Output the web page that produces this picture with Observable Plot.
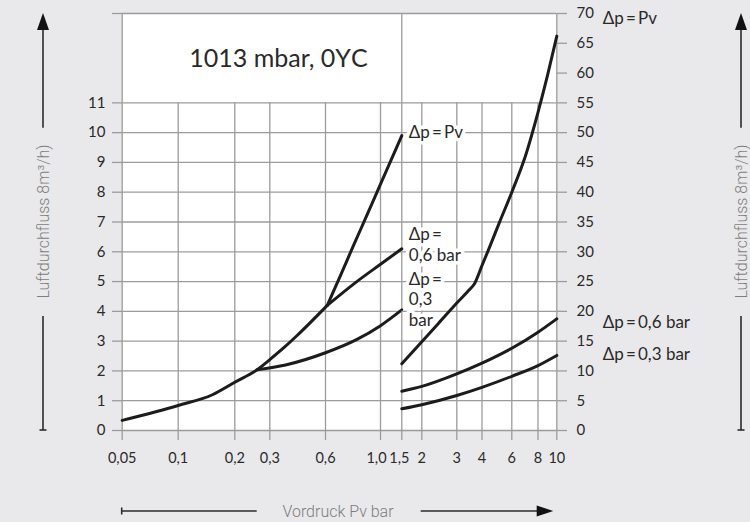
<!DOCTYPE html>
<html><head><meta charset="utf-8">
<script src="https://cdn.jsdelivr.net/npm/d3@7"></script>
<script src="https://cdn.jsdelivr.net/npm/@observablehq/plot@0.6"></script>
<style>
html,body{margin:0;padding:0;background:#e9e9eb;}
#chart{position:relative;width:750px;height:522px;}
#chart svg{position:absolute;left:0;top:0;}
g[aria-label="x tick labels"] text{letter-spacing:-0.4px;}
</style></head><body><div id="chart"></div>
<script>
// ---------- data ----------
const xTicksLeft = [0.05, 0.1, 0.2, 0.3, 0.6, 1.0, 1.5];
const xTickLabelsLeft = ["0,05", "0,1", "0,2", "0,3", "0,6", "1,0", "1,5"];
const xTicksRight = [2, 3, 4, 6, 8, 10];
const xTickLabelsRight = ["2", "3", "4", "6", "8", "10"];
const yTicksLeft = [0, 1, 2, 3, 4, 5, 6, 7, 8, 9, 10, 11];
const yTicksRight = [0, 5, 10, 15, 20, 25, 30, 35, 40, 45, 50, 55, 60, 65, 70];

// left panel (Vordruck 0.05 – 1.5 bar, flow 0 – 11 m³/h)
// Δp = Pv: lower branch up to the 0,6-bar junction, then the steep branch
const pvLowLeftX = [0.05, 0.1, 0.152, 0.2, 0.259, 0.3, 0.365, 0.42, 0.61];
const pvLowLeftQ = [0.34, 0.84, 1.2, 1.62, 2.04, 2.38, 2.83, 3.18, 4.2];
const pvHighLeftX = [0.61, 0.69, 0.78, 0.87, 1.0, 1.22, 1.5];
const pvHighLeftQ = [4.2, 5.21, 6.23, 7.12, 8.27, 9.07, 9.9];
const dp06LeftX = [0.61, 0.8, 1.0, 1.5];
const dp06LeftQ = [4.2, 4.99, 5.58, 6.1];
const dp03LeftX = [0.259, 0.365, 0.6, 0.8, 1.0, 1.5];
const dp03LeftQ = [2.04, 2.2, 2.61, 3.05, 3.52, 4.05];

// right panel (Vordruck 1.5 – 10 bar, flow 0 – 70 m³/h)
const pvRightX = [1.5, 2, 2.43, 3, 3.5, 3.65, 4, 4.35, 5.1, 6, 7, 8, 9, 10];
const pvRightQ = [11.2, 14.9, 18.0, 21.4, 23.8, 24.5, 27.7, 30.2, 35.1, 40, 46.3, 53.4, 59.9, 66.2];
const dp06RightX = [1.5, 2, 3, 4, 6, 8, 10];
const dp06RightQ = [6.6, 7.4, 9.5, 11.3, 13.8, 16.5, 18.75];
const dp03RightX = [1.5, 2, 3, 4, 6, 8, 10];
const dp03RightQ = [3.64, 4.33, 5.88, 7.25, 9.1, 10.9, 12.6];

// curve labels (label heights given on the right-hand 0–70 axis)
const innerLabels = ["Δp\u2009=\u2009Pv", "Δp\u2009=\n0,6 bar", "Δp\u2009=\n0,3\nbar"];
const innerLabelQ = [50.2, 31.3, 22.1];
const outerLabels = ["Δp\u2009=\u2009Pv", "Δp\u2009=\u20090,6 bar", "Δp\u2009=\u20090,3 bar"];
const outerLabelQ = [69.2, 18.1, 12.8];
const title = "1013 mbar, 0ΥC";
const yLabel = "Luftdurchfluss 8m³/h)";
const xLabel = "Vordruck Pv bar";

// ---------- build tables ----------
const series = (xs, qs, s) => xs.map((x, i) => ({x, q: qs[i], s}));
const leftData = [
  ...series(pvLowLeftX, pvLowLeftQ, "Pv-low"),
  ...series(pvHighLeftX, pvHighLeftQ, "Pv-high"),
  ...series(dp06LeftX, dp06LeftQ, "0,6"),
  ...series(dp03LeftX, dp03LeftQ, "0,3")
];
const rightData = [
  ...series(pvRightX, pvRightQ, "Pv"),
  ...series(dp06RightX, dp06RightQ, "0,6"),
  ...series(dp03RightX, dp03RightQ, "0,3")
];

const GRID = "#9c9c9c", INK = "#1c1c1c", TXT = "#2a2a2a";
const common = {
  width: 750, height: 522,
  marginLeft: 122, marginRight: 194, marginTop: 13, marginBottom: 92,
  style: {background: "transparent", fontFamily: "Lato, 'Open Sans', sans-serif", fontSize: "15px", overflow: "visible"}
};
const tickLabel = (ticks, labels, dx) => Plot.text(ticks, {
  x: d => d, text: d => labels[ticks.indexOf(d)], frameAnchor: "bottom", dy: 32, dx,
  fontSize: 14.5, fill: TXT, ariaLabel: "x tick labels"
});

// ---------- left panel ----------
const left = Plot.plot({
  ...common,
  x: {type: "log", domain: xTicksLeft, range: [121.7, 177.7, 234.3, 269.3, 325, 380, 401.3], axis: null},
  y: {domain: [0, 14], axis: null},
  marks: [
    Plot.frame({fill: "white", stroke: null}),
    Plot.ruleY(yTicksLeft, {x1: 0.05, x2: 1.5, stroke: GRID, strokeWidth: 1.3}),
    Plot.ruleY([14], {x1: 0.05, x2: 1.5, stroke: GRID, strokeWidth: 1.3}),
    Plot.ruleX(xTicksLeft.slice(1, -1), {y1: 0, y2: 11, stroke: GRID, strokeWidth: 1.3}),
    Plot.ruleX([0.05, 1.5], {y1: 0, y2: 14, stroke: GRID, strokeWidth: 1.3}),
    Plot.axisY(yTicksLeft, {anchor: "left", tickSize: 10, tickPadding: 7, stroke: GRID, strokeWidth: 1.3, fill: TXT, fontSize: 15, label: null}),
    Plot.axisY([14], {anchor: "left", tickSize: 10, tickFormat: () => "", stroke: GRID, strokeWidth: 1.3, label: null}),
    Plot.axisX(xTicksLeft, {anchor: "bottom", tickSize: 10, tickFormat: () => "", stroke: GRID, strokeWidth: 1.3, label: null}),
    tickLabel(xTicksLeft.slice(0, 5), xTickLabelsLeft.slice(0, 5), 0),
    tickLabel([xTicksLeft[5]], [xTickLabelsLeft[5]], -4),
    tickLabel([xTicksLeft[6]], [xTickLabelsLeft[6]], -2.5),
    Plot.line(leftData, {x: "x", y: "q", z: "s", stroke: INK, strokeWidth: 3, curve: "monotone-x"}),
    Plot.text([title], {x: () => 0.334, y: () => 12.48, text: d => d, fontSize: 25, fill: TXT})
  ]
});

// ---------- right panel ----------
const right = Plot.plot({
  ...common,
  x: {type: "log", domain: [1.5, ...xTicksRight], range: [401.3, 421.3, 456.3, 481.5, 511.3, 537.5, 556.3], axis: null},
  y: {domain: [0, 70], axis: null},
  marks: [
    Plot.ruleY(yTicksRight.filter(d => d <= 55), {x1: 1.5, x2: 10, stroke: GRID, strokeWidth: 1.3}),
    Plot.ruleY([70], {x1: 1.5, x2: 10, stroke: GRID, strokeWidth: 1.3}),
    Plot.ruleX(xTicksRight.slice(0, -1), {y1: 0, y2: 55, stroke: GRID, strokeWidth: 1.3}),
    Plot.ruleX([10], {y1: 0, y2: 70, stroke: GRID, strokeWidth: 1.3}),
    Plot.axisY(yTicksRight, {anchor: "right", tickSize: 10, tickPadding: 10, stroke: GRID, strokeWidth: 1.3, fill: TXT, fontSize: 15, label: null}),
    Plot.axisX(xTicksRight, {anchor: "bottom", tickSize: 10, tickFormat: () => "", stroke: GRID, strokeWidth: 1.3, label: null}),
    tickLabel(xTicksRight, xTickLabelsRight, 0),
    Plot.text(innerLabels, {x: () => 1.5, y: (d, i) => innerLabelQ[i], text: d => d, dx: 7, textAnchor: "start", fontSize: 17, lineHeight: 1.22, fill: TXT, stroke: "white", strokeWidth: 7, paintOrder: "stroke"}),
    Plot.line(rightData, {x: "x", y: "q", z: "s", stroke: INK, strokeWidth: 3, curve: "monotone-x"}),
    Plot.text(outerLabels, {x: () => 10, y: (d, i) => outerLabelQ[i], text: d => d, dx: 46, textAnchor: "start", fontSize: 17, fill: TXT})
  ]
});

const chart = document.getElementById("chart");
chart.append(left, right);

// ---------- outer guide arrows & titles ----------
const deco = d3.create("svg").attr("width", 750).attr("height", 522).style("overflow", "visible");
const LINE = "#2b2b2b", GREY = "#7d7d7d";
function vGuide(x) {
  deco.append("line").attr("x1", x).attr("x2", x).attr("y1", 28).attr("y2", 127.7).attr("stroke", LINE).attr("stroke-width", 1.6);
  deco.append("path").attr("d", `M${x},13L${x - 6},30L${x + 6},30Z`).attr("fill", "#111");
  deco.append("line").attr("x1", x).attr("x2", x).attr("y1", 316).attr("y2", 430).attr("stroke", LINE).attr("stroke-width", 1.6);
  deco.append("line").attr("x1", x - 3.5).attr("x2", x + 3.5).attr("y1", 430).attr("y2", 430).attr("stroke", LINE).attr("stroke-width", 1.6);
  deco.append("text").attr("transform", `translate(${x},221.5) rotate(-90)`)
    .attr("text-anchor", "middle").attr("dominant-baseline", "central")
    .attr("font-family", "Roboto, 'Liberation Sans', sans-serif").attr("font-weight", 300)
    .attr("font-size", 16).attr("fill", GREY).text(yLabel);
}
vGuide(43);
vGuide(741);
deco.append("line").attr("x1", 121.7).attr("x2", 256.7).attr("y1", 511).attr("y2", 511).attr("stroke", LINE).attr("stroke-width", 1.6);
deco.append("line").attr("x1", 121.7).attr("x2", 121.7).attr("y1", 507.5).attr("y2", 514.5).attr("stroke", LINE).attr("stroke-width", 1.6);
deco.append("line").attr("x1", 420.7).attr("x2", 538).attr("y1", 511).attr("y2", 511).attr("stroke", LINE).attr("stroke-width", 1.6);
deco.append("path").attr("d", "M553.3,511L536.7,505.5L536.7,516.5Z").attr("fill", "#111");
deco.append("text").attr("x", 338).attr("y", 511).attr("text-anchor", "middle").attr("dominant-baseline", "central")
  .attr("font-family", "Roboto, 'Liberation Sans', sans-serif").attr("font-weight", 300)
  .attr("font-size", 16).attr("fill", GREY).text(xLabel);
chart.append(deco.node());
</script></body></html>
